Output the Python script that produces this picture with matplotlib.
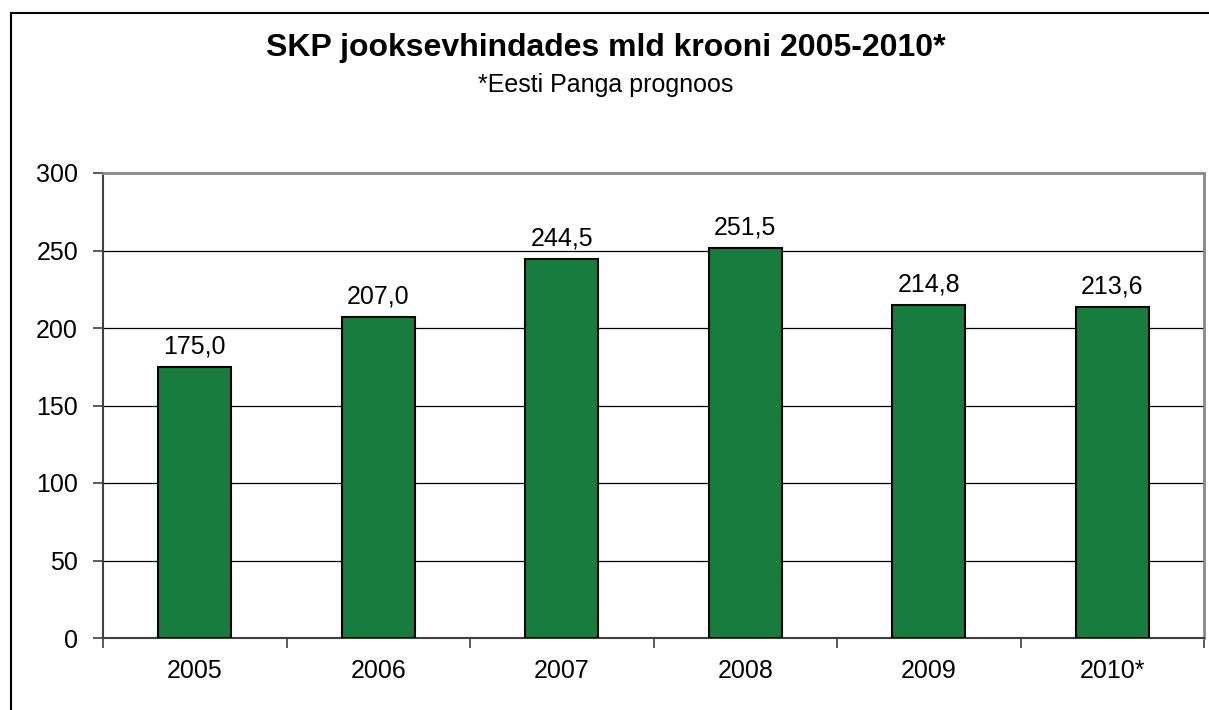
import numpy as np
import matplotlib.pyplot as plt
from matplotlib.patches import Rectangle

plt.rcParams['font.family'] = ['Liberation Sans', 'DejaVu Sans']

# data
years = ['2005', '2006', '2007', '2008', '2009', '2010*']
gdp = [175.0, 207.0, 244.5, 251.5, 214.8, 213.6]
yticks = [0, 50, 100, 150, 200, 250, 300]

fig = plt.figure(figsize=(12.09, 7.10), dpi=100)
ax = fig.add_axes([103 / 1209, 1 - 638 / 710, 1101 / 1209, 465 / 710])

x = np.arange(len(years))
bars = ax.bar(x, gdp, width=0.40, color='#177D3E', edgecolor='black', linewidth=1.5, zorder=3)
for xi, v in zip(x, gdp):
    ax.annotate(f'{v:.1f}'.replace('.', ','), (xi, v), xytext=(0, 6), textcoords='offset points',
                ha='center', va='bottom', fontsize=18)

ax.set_xlim(-0.5, len(years) - 0.5)
ax.set_ylim(0, 300)
ax.set_yticks(yticks)
ax.set_yticklabels([str(t) for t in yticks], fontsize=18)
ax.yaxis.grid(True, color='black', linewidth=0.9, zorder=0)

# categories centred, ticks between them
ax.set_xticks(x)
ax.set_xticklabels(years, fontsize=18)
ax.tick_params(axis='x', length=0, pad=15)
ax.set_xticks(np.arange(len(years) + 1) - 0.5, minor=True)
ax.tick_params(axis='x', which='minor', length=7, width=1.2, color='#404040', direction='out')
ax.tick_params(axis='y', length=7, width=1.2, color='#404040', pad=11)

for s in ['left', 'bottom']:
    ax.spines[s].set_color('#404040')
    ax.spines[s].set_linewidth(1.5)
for s in ['top', 'right']:
    ax.spines[s].set_color('#888888')
    ax.spines[s].set_linewidth(2)

fig.text(606 / 1209, 1 - 48 / 710, 'SKP jooksevhindades mld krooni 2005-2010*',
         ha='center', va='center', fontsize=23, fontweight='bold')
fig.text(606 / 1209, 1 - 85 / 710, '*Eesti Panga prognoos', ha='center', va='center', fontsize=18)

# outer frame
fig.patches.append(Rectangle((11 / 1209, -0.1), 1.2, 1 - 13 / 710 + 0.1, transform=fig.transFigure,
                             fill=False, edgecolor='black', linewidth=1.5))

plt.savefig('out.png', dpi=100)
plt.close()
